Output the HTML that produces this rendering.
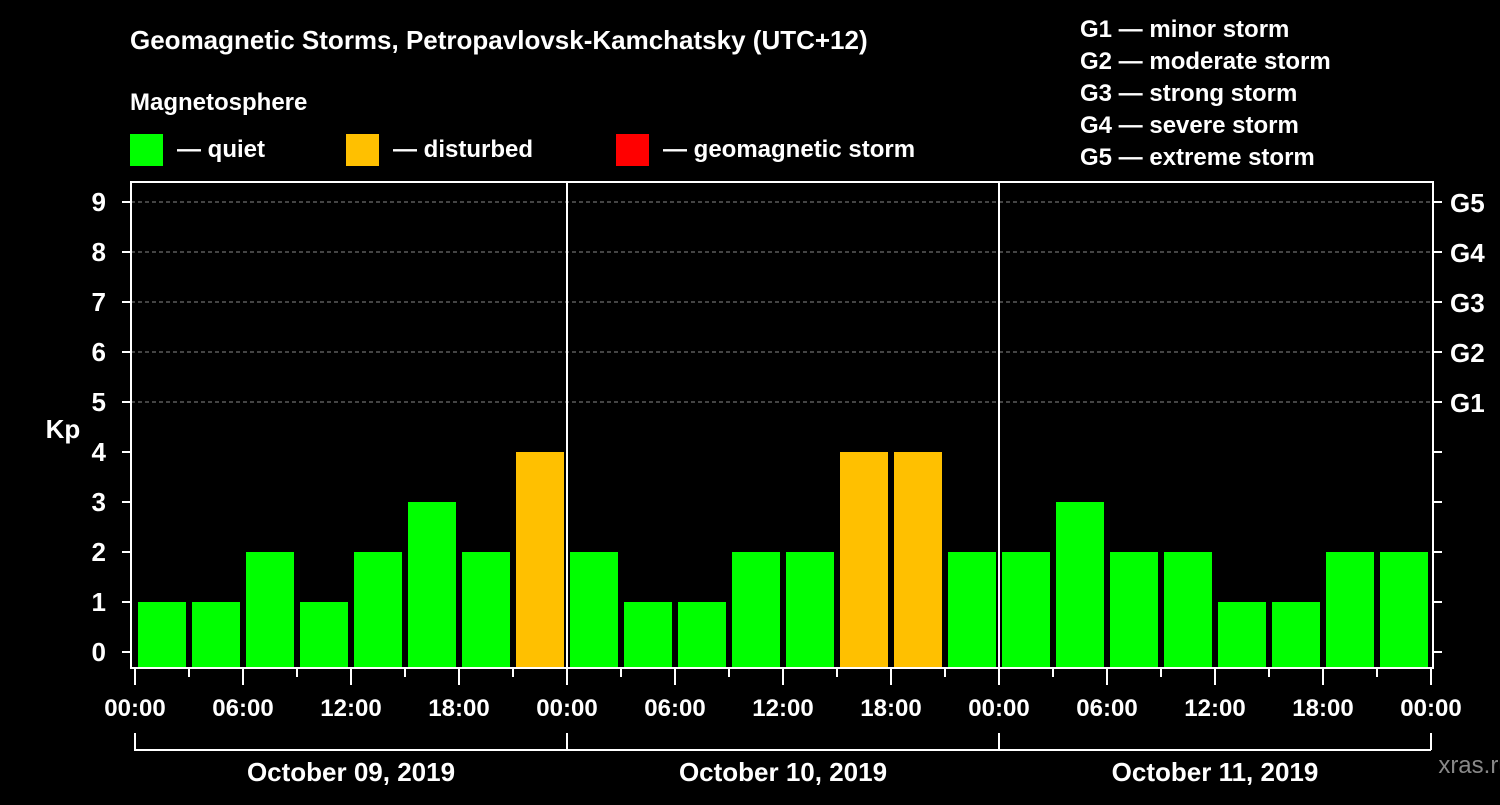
<!DOCTYPE html>
<html><head><meta charset="utf-8"><style>
body{margin:0;background:#000;}
svg text{font-family:"Liberation Sans",sans-serif;font-weight:bold;fill:#fff;}
</style></head><body>
<svg id="c" width="1500" height="800" xmlns="http://www.w3.org/2000/svg">
<rect width="1500" height="800" fill="#000"/>
<text x="130" y="49" font-size="26">Geomagnetic Storms, Petropavlovsk-Kamchatsky (UTC+12)</text>
<text x="130" y="110" font-size="24">Magnetosphere</text>
<g><rect x="130" y="134" width="33" height="32" fill="#00ff00"/><text x="177" y="157" font-size="24">— quiet</text></g>
<g><rect x="346" y="134" width="33" height="32" fill="#ffc000"/><text x="393" y="157" font-size="24">— disturbed</text></g>
<g><rect x="616" y="134" width="33" height="32" fill="#ff0000"/><text x="663" y="157" font-size="24">— geomagnetic storm</text></g>
<g font-size="24">
<text x="1080" y="37">G1 — minor storm</text>
<text x="1080" y="69">G2 — moderate storm</text>
<text x="1080" y="101">G3 — strong storm</text>
<text x="1080" y="133">G4 — severe storm</text>
<text x="1080" y="165">G5 — extreme storm</text>
</g>
<text x="63" y="438" font-size="26" text-anchor="middle">Kp</text>
<text x="1475" y="773" font-size="24" fill="#888" style="fill:#888;font-weight:normal" text-anchor="middle">xras.ru</text>
<g id="plot"></g>
</svg>
<script>
const kpValues=[1,1,2,1,2,3,2,4, 2,1,1,2,2,4,4,2, 2,3,2,2,1,1,2,2];
const yTicks=[0,1,2,3,4,5,6,7,8,9];
const gLabels=["G1","G2","G3","G4","G5"];
const hourLabels=["00:00","06:00","12:00","18:00"];
const dayLabels=["October 09, 2019","October 10, 2019","October 11, 2019"];
const NS="http://www.w3.org/2000/svg";
const g=document.getElementById('plot');
const X0=135,SLOT=54,PL=131,PR=1433,PT=182,PB=668;
const y=v=>652-v*50;
const x=i=>X0+i*SLOT;
function mk(t,a){const e=document.createElementNS(NS,t);for(const k in a)e.setAttribute(k,a[k]);g.appendChild(e);return e;}
// grid
yTicks.forEach(v=>{if(v>=5){const l=mk('line',{x1:PL,x2:PR,y1:y(v),y2:y(v),stroke:'#888','stroke-dasharray':'4,3','stroke-width':1});

}});
// bars
kpValues.forEach((v,i)=>{const c=v>=5?'#ff0000':(v>=4?'#ffc000':'#00ff00');
const r=mk('rect',{x:x(i)+3,y:y(v),width:48,height:PB-1-y(v),fill:c});

});
// day separators
for(let d=1;d<3;d++){const l=mk('line',{x1:x(d*8),x2:x(d*8),y1:PT,y2:PB,stroke:'#fff','stroke-width':2});

}
// frame
const fr=mk('rect',{x:PL,y:PT,width:PR-PL,height:PB-PT,fill:'none',stroke:'#fff','stroke-width':2});


// y ticks
yTicks.forEach(v=>{mk('line',{x1:122,x2:PL,y1:y(v),y2:y(v),stroke:'#fff','stroke-width':2});
mk('line',{x1:PR,x2:1442,y1:y(v),y2:y(v),stroke:'#fff','stroke-width':2});
const t=mk('text',{x:106,y:y(v)+9,'font-size':26,'text-anchor':'end'});t.textContent=v;

});
gLabels.forEach((s,i)=>{const t=mk('text',{x:1450,y:y(5+i)+10,'font-size':26});t.textContent=s;

});
// x ticks
for(let i=0;i<=24;i++){const major=i%2==0;mk('line',{x1:x(i),x2:x(i),y1:PB,y2:major?685:677,stroke:'#fff','stroke-width':2});
if(major){const t=mk('text',{x:x(i),y:716,'font-size':24,'text-anchor':'middle'});t.textContent=hourLabels[(i/2)%4];

}}
// day brackets
mk('path',{d:`M${x(0)} 733 V750 H${x(24)} M${x(8)} 733 V750 M${x(16)} 733 V750 M${x(24)} 733 V750`,stroke:'#fff','stroke-width':2,fill:'none'});
dayLabels.forEach((s,d)=>{const t=mk('text',{x:x(d*8+4),y:781,'font-size':26,'text-anchor':'middle'});t.textContent=s;

});
</script>
</body></html>
